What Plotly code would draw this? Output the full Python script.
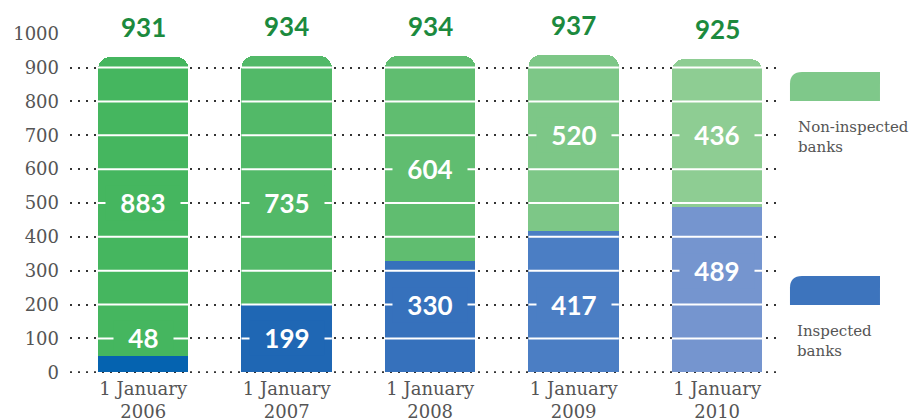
import plotly.graph_objects as go

years = ["1 January<br>2006", "1 January<br>2007", "1 January<br>2008", "1 January<br>2009", "1 January<br>2010"]
inspected = [48, 199, 330, 417, 489]
non_inspected = [883, 735, 604, 520, 436]
totals = [931, 934, 934, 937, 925]
y_ticks = [0, 100, 200, 300, 400, 500, 600, 700, 800, 900, 1000]

# where the white numbers sit (on a grid line)
insp_label_lv = [100, 100, 200, 200, 300]
non_label_lv = [500, 500, 600, 700, 700]

green_cols = ["#45b65f", "#52b968", "#60bd70", "#7dc787", "#8ecd93"]
blue_cols = ["#0563b0", "#1f67b4", "#3671bc", "#4b7ec4", "#7595cf"]

BAR_W = 0.63
FONT = "DejaVu Serif"
NUM_FONT = "Lato"

fig = go.Figure()
fig.add_trace(go.Bar(x=list(range(5)), y=inspected, marker=dict(color=blue_cols, line=dict(width=0)),
                     width=BAR_W, name="Inspected banks", hoverinfo="y"))
fig.add_trace(go.Bar(x=list(range(5)), y=non_inspected, marker=dict(color=green_cols, line=dict(width=0), cornerradius=12),
                     width=BAR_W, name="Non-inspected banks", hoverinfo="y"))

shapes = []
# dotted line at zero (gridline at the axis edge doesn't show)
shapes.append(dict(type="line", xref="paper", yref="y", x0=0, x1=1, y0=0, y1=0, layer="below",
                   line=dict(color="#333", width=2, dash="2px,6px")))
# white grid lines across the bars
for i, t in enumerate(totals):
    for lv in y_ticks[1:]:
        if lv < t:
            shapes.append(dict(type="line", xref="x", yref="y", x0=i - BAR_W / 2, x1=i + BAR_W / 2,
                               y0=lv, y1=lv, line=dict(color="white", width=2), layer="above"))

annots = []
pad = "\u00a0\u00a0"
for i in range(5):
    annots.append(dict(x=i, y=totals[i], yshift=30, text="<b>%d</b>" % totals[i], showarrow=False,
                       font=dict(family=NUM_FONT, size=26, color="#1c8a3e")))
    annots.append(dict(x=i, y=insp_label_lv[i], text=pad + "<b>%d</b>" % inspected[i] + pad, showarrow=False,
                       bgcolor=blue_cols[i] if insp_label_lv[i] < inspected[i] else green_cols[i],
                       borderpad=1, font=dict(family=NUM_FONT, size=26, color="white")))
    annots.append(dict(x=i, y=non_label_lv[i], text=pad + "<b>%d</b>" % non_inspected[i] + pad, showarrow=False,
                       bgcolor=green_cols[i], borderpad=1, font=dict(family=NUM_FONT, size=26, color="white")))

# legend
swatch = "M0,0 L90,0 L90,29 L12,29 Q0,29 0,17 Z"
shapes.append(dict(type="path", xref="paper", yref="paper", xsizemode="pixel", ysizemode="pixel",
                   xanchor=1.0198, yanchor=0.80, path=swatch, fillcolor="#7fc88a", line=dict(width=0)))
shapes.append(dict(type="path", xref="paper", yref="paper", xsizemode="pixel", ysizemode="pixel",
                   xanchor=1.0198, yanchor=0.20, path=swatch, fillcolor="#3d74bd", line=dict(width=0)))
annots.append(dict(xref="paper", yref="paper", x=1.029, y=0.755, xanchor="left", yanchor="top", align="left",
                   text="Non-inspected<br>banks", showarrow=False, font=dict(family=FONT, size=15, color="#555")))
annots.append(dict(xref="paper", yref="paper", x=1.027, y=0.155, xanchor="left", yanchor="top", align="left",
                   text="Inspected<br>banks", showarrow=False, font=dict(family=FONT, size=15, color="#555")))

# page body adds 8px on top/left, so margins are shifted by that
fig.update_layout(
    barmode="stack",
    width=923, height=419,
    margin=dict(l=62, r=155, t=25, b=54),
    plot_bgcolor="white", paper_bgcolor="white",
    showlegend=False,
    shapes=shapes,
    annotations=annots,
)
fig.update_xaxes(range=[-0.51, 4.41], tickvals=list(range(5)), ticktext=years, showgrid=False, automargin=False,
                 zeroline=False, showline=False, ticks="", ticklabelstandoff=3,
                 tickfont=dict(family=FONT, size=18, color="#555"))
fig.update_yaxes(range=[-2, 1002], tickvals=y_ticks, showgrid=True, gridcolor="#333", gridwidth=2, automargin=False,
                 griddash="2px,6px", zeroline=False, showline=False, ticks="", ticklabelstandoff=10,
                 tickfont=dict(family=FONT, size=18, color="#555"))

fig.write_html("out.html")
